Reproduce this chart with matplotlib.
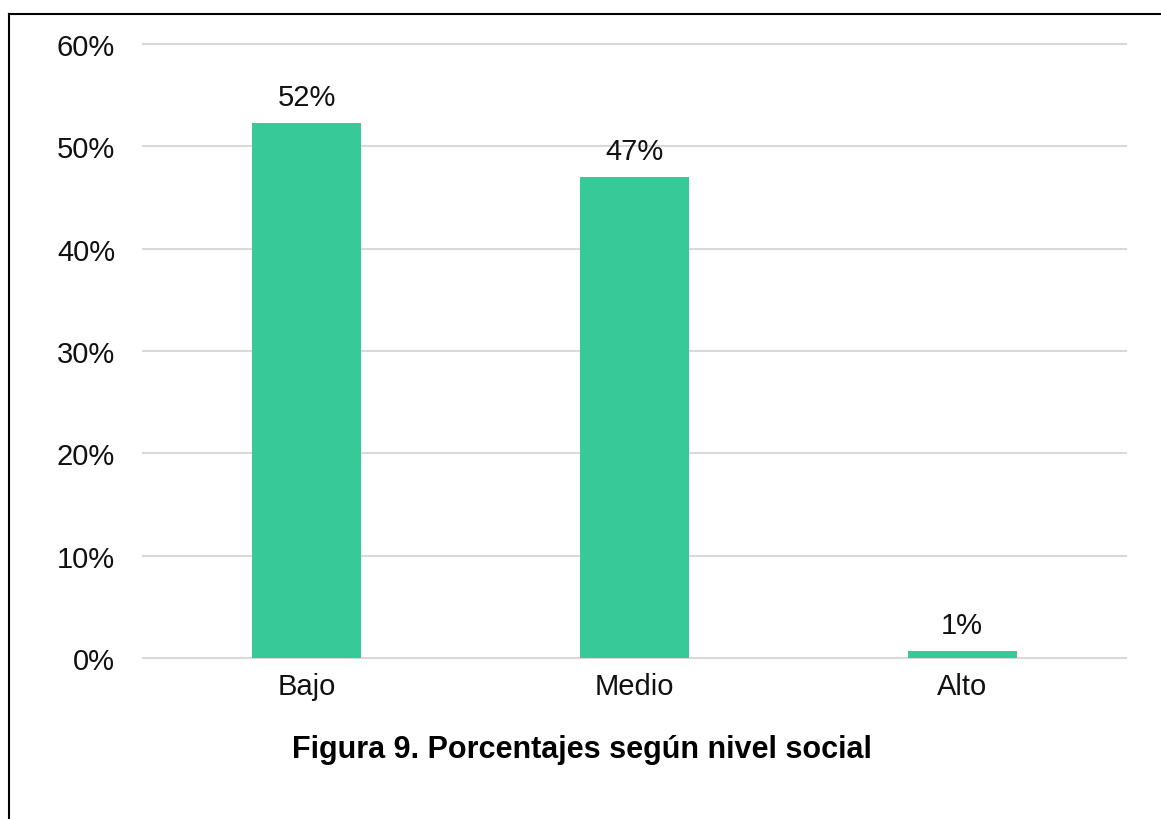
import matplotlib.pyplot as plt
from matplotlib.lines import Line2D

niveles = ['Bajo', 'Medio', 'Alto']
porcentajes = [52.3, 47.0, 0.7]
etiquetas = ['52%', '47%', '1%']
ticks_y = [0, 10, 20, 30, 40, 50, 60]

plt.rcParams['font.family'] = ['Liberation Sans', 'DejaVu Sans']

fig = plt.figure(figsize=(11.61, 8.2), dpi=100)
W, H = 1161, 820
ax = fig.add_axes([143 / W, 1 - 659 / H, (1126 - 143) / W, (659 - 45) / H])

x = range(len(niveles))
ax.bar(x, porcentajes, width=0.333, color='#37c998', zorder=3)
for i, v in enumerate(porcentajes):
    ax.text(i, v + 1.2, etiquetas[i], ha='center', va='bottom', fontsize=21, color='#111111')

ax.set_xlim(-0.5, 2.5)
ax.set_ylim(0, 60)
ax.set_yticks(ticks_y)
ax.set_yticklabels([str(t) + '%' for t in ticks_y])
ax.set_xticks(list(x))
ax.set_xticklabels(niveles)
ax.tick_params(axis='both', length=0, labelsize=21, colors='#111111')
ax.tick_params(axis='y', pad=20)
ax.tick_params(axis='x', pad=10)
ax.yaxis.grid(True, color='#d9d9d9', linewidth=1.5, zorder=0)
for g in ax.get_ygridlines():
    g.set_clip_on(False)
for s in ax.spines.values():
    s.set_visible(False)

fig.text(582 / W, 1 - 750 / H, 'Figura 9. Porcentajes según nivel social',
         ha='center', va='center', fontsize=22, fontweight='bold')

# marco del recuadro (izquierda y arriba)
fig.add_artist(Line2D([8.5 / W, 8.5 / W], [0, 1 - 15 / H], color='black', linewidth=1.5))
fig.add_artist(Line2D([8.5 / W, 1], [1 - 15 / H, 1 - 15 / H], color='black', linewidth=1.5))

fig.savefig('out.png', dpi=100)
